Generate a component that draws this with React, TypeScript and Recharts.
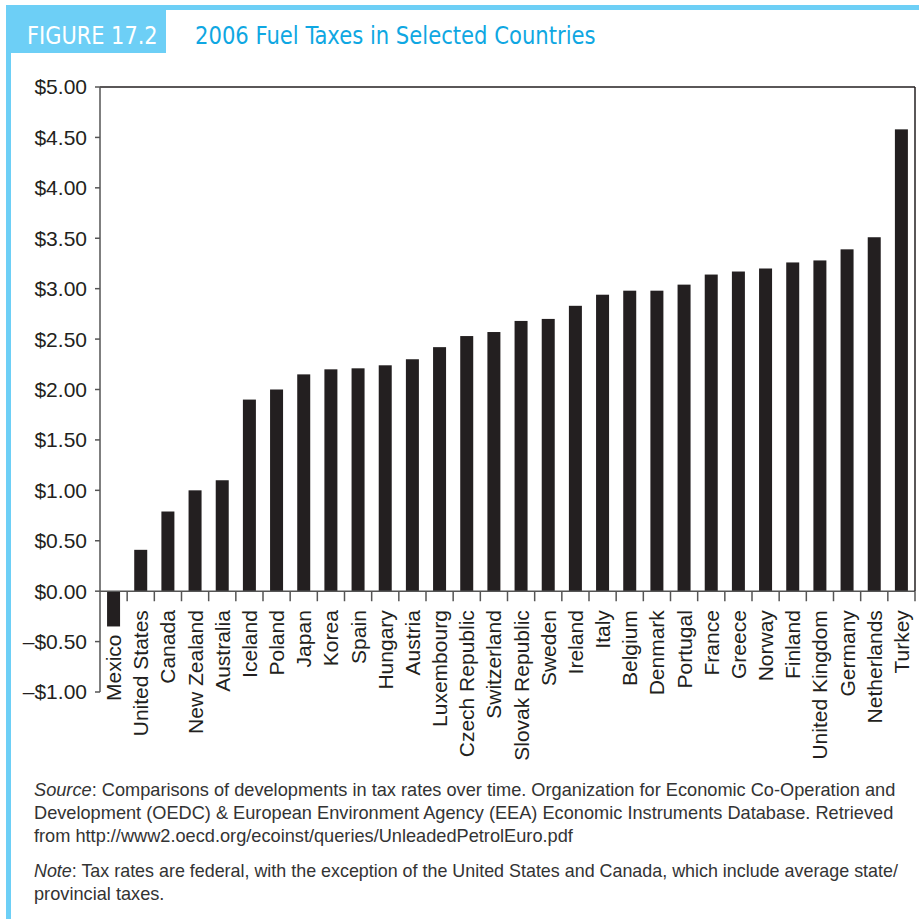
import React from 'react';
import { BarChart, Bar, XAxis, YAxis, ReferenceLine } from 'recharts';

const countries = [
  'Mexico', 'United States', 'Canada', 'New Zealand', 'Australia', 'Iceland', 'Poland', 'Japan',
  'Korea', 'Spain', 'Hungary', 'Austria', 'Luxembourg', 'Czech Republic', 'Switzerland',
  'Slovak Republic', 'Sweden', 'Ireland', 'Italy', 'Belgium', 'Denmark', 'Portugal', 'France',
  'Greece', 'Norway', 'Finland', 'United Kingdom', 'Germany', 'Netherlands', 'Turkey',
];
const taxes = [
  -0.35, 0.41, 0.79, 1.0, 1.1, 1.9, 2.0, 2.15,
  2.2, 2.21, 2.24, 2.3, 2.42, 2.53, 2.57,
  2.68, 2.7, 2.83, 2.94, 2.98, 2.98, 3.04, 3.14,
  3.17, 3.2, 3.26, 3.28, 3.39, 3.51, 4.58,
];
const yTicks = [-1, -0.5, 0, 0.5, 1, 1.5, 2, 2.5, 3, 3.5, 4, 4.5, 5];

const data = countries.map((c, i) => ({ country: c, tax: taxes[i] }));

const BLUE = '#6dcff6';
const TITLE_BLUE = '#0fa7e2';
const INK = '#231f20';
const AXIS = '#555555';
const NARROW = "'Liberation Sans Narrow', 'DejaVu Sans Condensed', 'Liberation Sans', sans-serif";
const SANS = "'Liberation Sans', Arial, sans-serif";

const fmt = (v: number) => (v < 0 ? `\u2013$${Math.abs(v).toFixed(2)}` : `$${v.toFixed(2)}`);

const BarWithLabel = (props: any) => {
  const { x, y, width, height, payload } = props;
  const top = Math.min(y, y + height);
  const bottom = Math.max(y, y + height);
  const h = Math.abs(height);
  const cx = x + width / 2;
  const labelTop = payload.tax < 0 ? bottom + 8 : bottom + 19;
  return (
    <g>
      <rect x={x} y={top} width={width} height={h} fill={INK} />
      <text
        transform={`translate(${cx},${labelTop}) rotate(-90)`}
        textAnchor="end"
        dominantBaseline="central"
        fontFamily={SANS}
        fontSize={21}
        fill={INK}
      >
        {payload.country}
      </text>
    </g>
  );
};

export default function App() {
  return (
    <div style={{ position: 'absolute', left: 0, top: 0, width: 919, height: 919, background: '#fff', overflow: 'hidden' }}>
      <div style={{ position: 'absolute', left: 6, top: 5, width: 913, height: 5, background: BLUE }} />
      <div style={{ position: 'absolute', left: 6, top: 5, width: 5, height: 914, background: BLUE }} />
      <div style={{ position: 'absolute', left: 6, top: 5, width: 160, height: 48, background: BLUE }} />
      <div
        style={{
          position: 'absolute', left: 27, top: 21, fontFamily: NARROW, fontSize: 25, color: '#fff',
          lineHeight: '30px', whiteSpace: 'nowrap', transform: 'scaleX(0.93)', transformOrigin: 'left center',
        }}
      >
        FIGURE 17.2
      </div>
      <div
        style={{
          position: 'absolute', left: 195, top: 21, fontFamily: NARROW, fontSize: 25, color: TITLE_BLUE,
          lineHeight: '30px', whiteSpace: 'nowrap', transform: 'scaleX(0.94)', transformOrigin: 'left center',
        }}
      >
        2006 Fuel Taxes in Selected Countries
      </div>

      <div style={{ position: 'absolute', left: 0, top: 0 }}>
        <BarChart
          width={919}
          height={760}
          data={data}
          margin={{ top: 87, right: 4, left: 8, bottom: 68 }}
          barCategoryGap="26%"
        >
          <XAxis dataKey="country" hide />
          <YAxis
            type="number"
            domain={[-1, 5]}
            ticks={yTicks}
            interval={0}
            width={92}
            tickFormatter={fmt}
            tick={{ fontFamily: SANS, fontSize: 21, fill: INK }}
            tickSize={5}
            tickMargin={8}
            axisLine={{ stroke: AXIS, strokeWidth: 1.5 }}
            tickLine={{ stroke: AXIS, strokeWidth: 1.5 }}
          />
          <ReferenceLine y={5} stroke={INK} strokeWidth={1.5} />
          <ReferenceLine y={0} stroke={AXIS} strokeWidth={1.5} />
          <ReferenceLine
            segment={[{ x: countries[countries.length - 1], y: 5 }, { x: countries[countries.length - 1], y: 0 }]}
            position="end"
            stroke={INK}
            strokeWidth={1.5}
          />
          {countries.map((c) => (
            <ReferenceLine
              key={c}
              segment={[{ x: c, y: 0 }, { x: c, y: -0.1 }]}
              position="end"
              stroke={AXIS}
              strokeWidth={1.5}
            />
          ))}
          <Bar dataKey="tax" isAnimationActive={false} shape={BarWithLabel} />
        </BarChart>
      </div>

      <div
        style={{
          position: 'absolute', left: 34, top: 779, fontFamily: SANS, fontSize: 18.2,
          lineHeight: '23px', color: '#333', whiteSpace: 'nowrap',
        }}
      >
        <div><i>Source</i>: Comparisons of developments in tax rates over time. Organization for Economic Co-Operation and</div>
        <div>Development (OEDC) &amp; European Environment Agency (EEA) Economic Instruments Database. Retrieved</div>
        <div>from http://www2.oecd.org/ecoinst/queries/UnleadedPetrolEuro.pdf</div>
        <div style={{ marginTop: 12, fontSize: 17.9 }}><i>Note</i>: Tax rates are federal, with the exception of the United States and Canada, which include average state/</div>
        <div>provincial taxes.</div>
      </div>
    </div>
  );
}
